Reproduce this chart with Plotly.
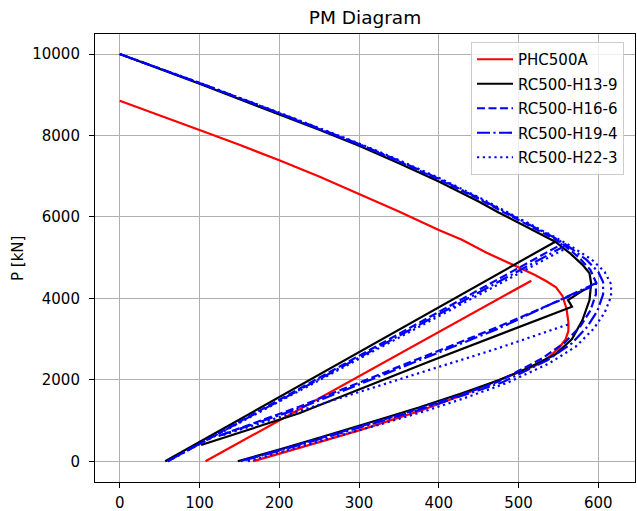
import plotly.graph_objects as go

# ---- data (M [kN·m], P [kN]); None separates drawn segments ----
series_names = ["PHC500A", "RC500-H13-9", "RC500-H16-6", "RC500-H19-4", "RC500-H22-3"]

phc_M = [0, 50, 100, 150, 200, 250, 300, 350, 400, 429, 460, 485, 505, 520, 535, 547, 555, 560, 562.5, 562.5, 559, 551, 540, 525, 471, 429, 375, 329, 300, 250, 200, 167,
         None, 107.5, 516]
phc_P = [8850, 8500, 8134, 7770, 7390, 6990, 6570, 6135, 5680, 5440, 5120, 4900, 4730, 4580, 4420, 4270, 4060, 3760, 3420, 3200, 3000, 2790, 2590, 2380, 1960, 1620, 1230, 940, 760, 470, 190, 0,
         None, 0, 4434]

h13_M = [0, 100, 200, 250, 300, 350, 400, 450, 475, 510, 546, 565, 580, 589, 591, 589, 580, 567, 546, 512, 475, 429, 375, 329, 300, 250, 200, 148,
         None, 57, 546,
         None, 102, 225, 387.5, 567, 562, 583]
h13_P = [10000, 9270, 8515, 8140, 7745, 7320, 6870, 6380, 6110, 5760, 5392, 5100, 4830, 4616, 4370, 3960, 3460, 3000, 2620, 2290, 1990, 1670, 1320, 1045, 870, 580, 290, 0,
         None, 0, 5392,
         None, 400, 1178, 2446, 3796, 3960, 4223]

h16_M = [0, 100, 200, 250, 300, 350, 400, 450, 475, 510, 546, 555, 575, 590, 597, 597, 590, 577, 558, 530, 475, 429, 375, 329, 300, 250, 200, 150,
         None, 60, 555,
         None, 127, 225, 475, 592]
h16_P = [10000, 9285, 8540, 8165, 7775, 7360, 6920, 6440, 6180, 5830, 5450, 5340, 5020, 4700, 4400, 4100, 3700, 3300, 2920, 2530, 1960, 1640, 1290, 1015, 845, 560, 275, 0,
         None, 0, 5340,
         None, 646, 1341, 3306, 4290]

h19_M = [0, 100, 200, 250, 300, 350, 400, 450, 475, 510, 546, 560, 585, 600, 606, 606, 599, 586, 567, 536, 480, 429, 375, 329, 300, 250, 200, 152,
         None, 60, 560,
         None, 124, 225, 475, 601]
h19_P = [10000, 9290, 8550, 8178, 7790, 7378, 6940, 6462, 6205, 5855, 5480, 5310, 4950, 4650, 4400, 4100, 3700, 3300, 2900, 2480, 1940, 1610, 1260, 990, 820, 540, 260, 0,
         None, 0, 5310,
         None, 620, 1300, 3260, 4410]

h22_M = [0, 100, 200, 250, 300, 350, 400, 450, 475, 510, 546, 565, 592, 608, 616, 616, 608, 594, 572, 538, 485, 429, 387, 329, 300, 250, 200, 160,
         None, 60, 565,
         None, 130, 387, 475, 565]
h22_P = [10000, 9295, 8560, 8190, 7805, 7395, 6960, 6485, 6230, 5880, 5500, 5290, 4950, 4650, 4350, 4050, 3650, 3250, 2820, 2400, 1920, 1530, 1260, 920, 760, 480, 220, 0,
         None, 0, 5290,
         None, 650, 2230, 2780, 3380]

x_ticks = [0, 100, 200, 300, 400, 500, 600]
x_tick_labels = ["0", "100", "200", "300", "400", "500", "600"]
y_ticks = [0, 2000, 4000, 6000, 8000, 10000]
y_tick_labels = ["0", "2000", "4000", "6000", "8000", "10000"]

LW = 2.2
styles = [
    dict(color="#ff0000", width=LW, dash="solid"),
    dict(color="#000000", width=LW, dash="solid"),
    dict(color="#0000ff", width=LW, dash="8px,3.5px"),
    dict(color="#0000ff", width=LW, dash="13px,3.4px,2.2px,3.4px"),
    dict(color="#0000ff", width=LW, dash="2.2px,3.6px"),
]

fig = go.Figure()
for name, M, P, st in zip(series_names,
                          [phc_M, h13_M, h16_M, h19_M, h22_M],
                          [phc_P, h13_P, h16_P, h19_P, h22_P],
                          styles):
    fig.add_trace(go.Scatter(x=M, y=P, mode="lines", name=name, line=st,
                             connectgaps=False, legendgroup=name))

axis_common = dict(showgrid=True, gridcolor="#b0b0b0", gridwidth=1.1,
                   showline=True, linecolor="#000000", linewidth=1.1, mirror=True,
                   ticks="outside", ticklen=5, tickwidth=1.1, tickcolor="#000000",
                   zeroline=False, automargin=False,
                   tickfont=dict(family="DejaVu Sans", size=15, color="#000000"))

fig.update_layout(
    width=637, height=511,
    margin=dict(l=95, r=2, t=34, b=29, autoexpand=False),
    paper_bgcolor="white", plot_bgcolor="white",
    title=dict(text="PM Diagram", x=(95 + 635) / 2 / 637, xanchor="center",
               y=1 - 18 / 511, yanchor="middle",
               font=dict(family="DejaVu Sans", size=18.5, color="#000000")),
    xaxis=dict(range=[-31, 646], tickvals=x_ticks, ticktext=x_tick_labels,
               ticklabelstandoff=2, **axis_common),
    yaxis=dict(range=[-508, 10491], tickvals=y_ticks, ticktext=y_tick_labels,
               ticklabelstandoff=6, **axis_common),
    legend=dict(x=(471 - 95) / 540, y=(482 - 42) / 448, xanchor="left", yanchor="top",
                bgcolor="rgba(255,255,255,0.8)", bordercolor="#cccccc", borderwidth=1,
                font=dict(family="DejaVu Sans", size=15, color="#000000"),
                itemwidth=36, tracegroupgap=2),
    showlegend=True,
    annotations=[dict(text="P [kN]", xref="paper", yref="paper", x=-0.1426, y=0.5,
                      textangle=-90, showarrow=False, xanchor="center", yanchor="middle",
                      font=dict(family="DejaVu Sans", size=15, color="#000000"))],
)

fig.write_html("out.html", config={"displayModeBar": False},
               post_script="document.body.style.margin='0';document.body.style.padding='0';document.body.style.overflow='hidden';")
